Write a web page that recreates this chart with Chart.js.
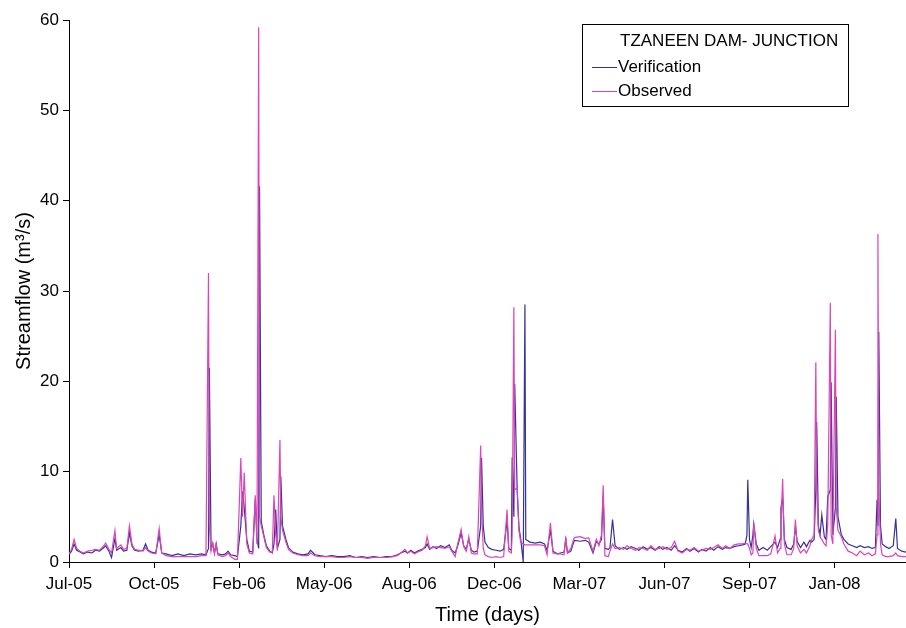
<!DOCTYPE html>
<html>
<head>
<meta charset="utf-8">
<script src="https://cdn.jsdelivr.net/npm/chart.js@4.4.0/dist/chart.umd.min.js"></script>
<style>
    html, body { margin: 0; padding: 0; background: #ffffff; }
    #chartWrap { width: 906px; height: 628px; }
</style>
</head>
<body>
<div id="chartWrap"><canvas id="myChart" width="906" height="628"></canvas></div>
<script>
// days counted from the first value of the record (about 20 Jul 2005)
const days = [
    0, 3, 6, 9, 13, 17, 22, 27, 31, 36,
    41, 43, 47, 50, 54, 56, 61, 64, 68, 71,
    74, 77, 82, 87, 90, 93, 97, 102, 106, 109,
    114, 121, 128, 135, 142, 149, 156, 161, 164, 165,
    167, 169, 171, 173, 175, 180, 184, 187, 190, 195,
    198, 202, 204, 206, 209, 212, 216, 219, 221, 223,
    224, 226, 229, 232, 236, 239, 241, 243, 245, 248,
    249, 251, 255, 258, 263, 269, 275, 281, 284, 289,
    295, 302, 309, 316, 323, 330, 337, 344, 351, 358,
    366, 373, 380, 386, 390, 395, 398, 402, 406, 410,
    415, 419, 421, 424, 428, 432, 437, 442, 447, 450,
    454, 457, 461, 464, 467, 470, 473, 476, 480, 484,
    485, 487, 489, 493, 497, 502, 507, 511, 515, 517,
    520, 521, 523, 524, 527, 529, 531, 534, 536, 537,
    542, 548, 554, 559, 562, 566, 569, 574, 578, 582,
    584, 586, 590, 594, 601, 607, 611, 616, 620, 623,
    626, 628, 630, 634, 636, 639, 642, 647, 652, 656,
    661, 666, 670, 675, 680, 684, 689, 694, 698, 703,
    708, 712, 716, 721, 726, 730, 735, 740, 744, 749,
    754, 758, 763, 768, 772, 777, 782, 787, 792, 795,
    797, 798, 800, 802, 804, 805, 808, 811, 816, 821,
    825, 828, 830, 833, 836, 837, 839, 841, 844, 849,
    852, 854, 856, 860, 864, 867, 871, 873, 876, 878,
    879, 881, 883, 885, 888, 890, 892, 895, 896, 898,
    901, 902, 904, 908, 911, 916, 921, 926, 930, 935,
    940, 944, 948, 950, 951, 952, 954, 956, 960, 964,
    969, 972, 974, 979, 984
];

const verification = [
    0.8, 1.2, 2.0, 1.3, 1.1, 0.9, 1.1, 1.0, 1.3, 1.2,
    1.6, 1.8, 1.2, 0.5, 2.6, 1.3, 1.6, 1.2, 1.3, 3.2,
    1.8, 1.3, 1.2, 1.3, 2.0, 1.3, 1.1, 1.0, 3.0, 1.0,
    0.9, 0.7, 0.9, 0.7, 0.9, 0.8, 0.9, 0.8, 1.5, 21.5,
    1.5, 2.0, 1.0, 2.0, 0.9, 0.8, 0.9, 1.2, 0.8, 0.7,
    0.6, 4.0, 7.8, 6.0, 2.5, 1.2, 1.1, 7.0, 2.5, 1.5,
    41.6, 4.5, 3.0, 1.8, 1.2, 1.0, 2.0, 5.8, 1.5, 2.5,
    9.5, 4.0, 2.5, 1.6, 1.1, 0.9, 0.8, 0.9, 1.3, 0.8,
    0.7, 0.6, 0.7, 0.6, 0.6, 0.7, 0.5, 0.6, 0.5, 0.6,
    0.5, 0.6, 0.6, 0.8, 1.0, 1.2, 1.0, 1.3, 1.0, 1.2,
    1.4, 1.6, 2.0, 1.4, 1.7, 1.5, 1.8, 1.6, 1.9, 1.3,
    1.0, 1.8, 3.2, 1.8, 1.4, 2.5, 1.3, 1.1, 1.2, 4.0,
    11.5, 4.0, 2.2, 1.6, 1.4, 1.3, 1.2, 1.4, 4.6, 1.5,
    1.3, 11.6, 5.0, 19.7, 7.5, 3.8, 2.6, 0.0, 28.5, 2.5,
    2.2, 2.1, 2.2, 2.0, 1.3, 3.5, 1.2, 0.9, 1.0, 1.1,
    2.5, 1.0, 1.2, 2.4, 2.3, 2.4, 2.2, 1.0, 2.3, 2.0,
    2.5, 7.3, 1.5, 1.4, 1.6, 4.7, 1.8, 1.4, 1.6, 1.4,
    1.7, 1.5, 1.3, 1.7, 1.4, 1.6, 1.3, 1.7, 1.4, 1.6,
    1.3, 1.8, 1.3, 1.1, 1.5, 1.2, 1.5, 1.1, 1.4, 1.2,
    1.6, 1.3, 1.7, 1.4, 1.6, 1.5, 1.7, 1.8, 1.9, 2.0,
    3.0, 9.1, 2.5, 1.6, 3.0, 4.2, 2.0, 1.3, 1.6, 1.3,
    1.7, 2.0, 2.2, 1.6, 2.5, 6.0, 7.2, 2.5, 1.6, 1.4,
    2.0, 3.9, 2.3, 1.6, 2.2, 1.7, 2.4, 2.2, 2.5, 8.0,
    15.5, 4.0, 3.0, 5.2, 2.8, 2.5, 7.2, 8.0, 19.9, 3.0,
    6.0, 18.3, 5.0, 3.0, 2.5, 2.0, 1.8, 1.6, 1.8, 1.6,
    1.7, 1.5, 1.6, 6.9, 4.0, 25.5, 4.0, 2.0, 1.7, 1.5,
    1.8, 4.8, 1.5, 1.2, 1.1
];

const observed = [
    0.9, 1.4, 2.5, 1.5, 1.2, 1.0, 1.2, 1.3, 1.4, 1.3,
    1.8, 2.1, 1.4, 1.0, 3.5, 1.5, 1.9, 1.4, 1.5, 4.0,
    2.0, 1.4, 1.3, 1.2, 1.6, 1.2, 1.0, 0.9, 3.7, 1.0,
    0.7, 0.6, 0.6, 0.6, 0.6, 0.6, 0.7, 0.7, 32.0, 4.0,
    1.2, 2.1, 0.9, 2.0, 0.8, 0.6, 0.7, 1.0, 0.6, 0.3,
    0.3, 11.5, 5.0, 9.9, 2.0, 1.0, 0.9, 7.4, 2.0, 59.2,
    5.0, 4.0, 2.8, 1.6, 1.1, 1.1, 7.4, 3.0, 1.4, 13.5,
    5.0, 3.5, 2.2, 1.4, 1.0, 0.8, 0.7, 0.7, 1.0, 0.7,
    0.6, 0.6, 0.6, 0.5, 0.5, 0.6, 0.5, 0.5, 0.4, 0.5,
    0.5, 0.5, 0.6, 0.7, 1.0, 1.4, 1.0, 1.2, 0.9, 1.1,
    1.3, 1.8, 2.8, 1.5, 1.6, 1.7, 1.6, 1.5, 1.7, 1.2,
    0.6, 2.0, 3.6, 1.7, 1.2, 2.8, 1.0, 0.9, 0.9, 12.9,
    6.0, 1.5, 0.8, 0.6, 0.5, 0.6, 0.5, 0.6, 5.8, 1.2,
    1.0, 3.0, 28.2, 8.0, 8.2, 3.5, 2.2, 2.0, 1.9, 1.9,
    1.9, 1.9, 1.9, 1.8, 0.8, 4.3, 1.0, 0.9, 0.9, 0.8,
    2.8, 1.0, 1.5, 2.7, 2.8, 2.6, 2.7, 1.2, 2.5, 1.8,
    3.0, 8.5, 0.7, 0.6, 1.2, 2.0, 1.5, 1.6, 1.4, 1.8,
    1.5, 1.3, 1.6, 1.5, 1.3, 1.8, 1.4, 1.5, 1.7, 1.4,
    1.6, 2.3, 1.2, 1.0, 1.4, 1.3, 1.6, 1.2, 1.3, 1.5,
    1.4, 1.6, 1.9, 1.5, 1.8, 1.5, 1.9, 2.0, 2.0, 2.1,
    2.0, 2.0, 1.5, 0.8, 1.0, 4.3, 1.5, 0.7, 0.7, 0.7,
    0.9, 2.0, 2.9, 1.0, 1.5, 4.0, 9.2, 2.0, 0.8, 0.8,
    1.5, 4.7, 1.8, 1.0, 1.4, 1.0, 1.8, 2.5, 3.0, 22.1,
    8.0, 3.5, 2.8, 2.5, 2.0, 1.8, 4.0, 28.7, 3.0, 2.0,
    25.7, 6.0, 3.5, 2.8, 2.0, 1.2, 1.0, 0.7, 1.2, 0.8,
    1.0, 0.7, 0.9, 3.0, 36.3, 8.0, 2.0, 0.8, 0.6, 0.6,
    0.7, 1.0, 0.7, 0.6, 0.6
];

const tickDays = [0, 100, 200, 300, 400, 500, 600, 700, 800, 900];
const tickLabels = ['Jul-05', 'Oct-05', 'Feb-06', 'May-06', 'Aug-06', 'Dec-06', 'Mar-07', 'Jun-07', 'Sep-07', 'Jan-08'];
const legendTitle = 'TZANEEN DAM- JUNCTION';

if (days.length !== verification.length || days.length !== observed.length) {
    console.warn('series length mismatch', days.length, verification.length, observed.length);
}

function toPoints(values) {
    return days.map((d, i) => ({ x: d, y: values[i] }));
}

// legend in a box inside the plot, first row is the station name without a line
const legendBox = {
    id: 'legendBox',
    afterDraw(chart) {
        let ctx = chart.ctx;
        ctx.save();
        ctx.strokeStyle = '#000000';
        ctx.lineWidth = 1;
        ctx.strokeRect(582.5, 24.5, 266, 82);
        ctx.font = '17px "Liberation Sans", Arial, sans-serif';
        ctx.fillStyle = '#000000';
        ctx.textBaseline = 'middle';
        ctx.fillText(legendTitle, 620, 41);
        let rows = [chart.data.datasets[0], chart.data.datasets[1]];
        rows.forEach(function (ds, i) {
            let y = 67 + i * 24;
            ctx.strokeStyle = ds.borderColor;
            ctx.beginPath();
            ctx.moveTo(592, y + 0.5);
            ctx.lineTo(617, y + 0.5);
            ctx.stroke();
            ctx.fillStyle = '#000000';
            ctx.fillText(ds.label, 618, y);
        });
        ctx.restore();
    }
};

Chart.defaults.font.family = '"Liberation Sans", Arial, sans-serif';
Chart.defaults.color = '#000000';

const ctx = document.getElementById('myChart');
const chart = new Chart(ctx, {
    type: 'line',
    data: {
        datasets: [{
            label: 'Verification',
            data: toPoints(verification),
            borderColor: '#333399',
            borderWidth: 1.2,
            pointRadius: 0,
            tension: 0,
            order: 1
        }, {
            label: 'Observed',
            data: toPoints(observed),
            borderColor: '#dd44b4',
            borderWidth: 1.2,
            pointRadius: 0,
            tension: 0,
            order: 0
        }]
    },
    options: {
        responsive: false,
        animation: false,
        layout: { padding: { top: 20, right: 0, bottom: 0, left: 0 } },
        plugins: {
            legend: { display: false },
            tooltip: { enabled: false }
        },
        scales: {
            x: {
                type: 'linear',
                min: 0,
                max: 984,
                afterBuildTicks: (scale) => { scale.ticks = tickDays.map(v => ({ value: v })); },
                afterFit: (scale) => { scale.height = 66; },
                ticks: {
                    callback: (value) => tickLabels[tickDays.indexOf(value)],
                    font: { size: 17 },
                    color: '#000000',
                    padding: 6,
                    maxRotation: 0,
                    autoSkip: false
                },
                grid: { drawOnChartArea: false, tickLength: 6, color: '#000000' },
                border: { color: '#000000', width: 1 },
                title: {
                    display: true,
                    text: 'Time (days)',
                    font: { size: 20 },
                    color: '#000000',
                    padding: { top: 2, bottom: 1 }
                }
            },
            y: {
                min: 0,
                max: 60,
                afterFit: (scale) => { scale.width = 69; },
                ticks: { stepSize: 10, font: { size: 17 }, color: '#000000', padding: 4 },
                grid: { drawOnChartArea: false, tickLength: 6, color: '#000000' },
                border: { color: '#000000', width: 1 },
                title: {
                    display: true,
                    text: 'Streamflow (m³/s)',
                    font: { size: 20 },
                    color: '#000000',
                    padding: { top: 12, bottom: 2 }
                }
            }
        }
    },
    plugins: [legendBox]
});
</script>
</body>
</html>
